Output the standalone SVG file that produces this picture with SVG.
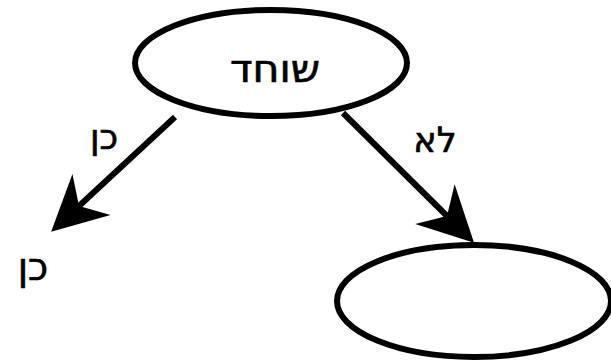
<svg xmlns="http://www.w3.org/2000/svg" width="611" height="363" viewBox="0 0 611 363">
<style>
.node{fill:#fff;stroke:#000;stroke-width:6}
.edge{stroke:#000;stroke-width:6;fill:none}
text{font-family:"DejaVu Sans","Noto Sans",sans-serif;font-size:35px;fill:#000;stroke:#000;stroke-width:0.7;text-anchor:middle}
</style>
<defs>
<marker id="arr" markerUnits="userSpaceOnUse" viewBox="-60 -30 60 60" markerWidth="60" markerHeight="60" refX="-38" refY="0" orient="auto">
<path d="M0,0 L-55,-28 L-38,0 L-55,28 Z" fill="#000"/>
</marker>
</defs>
<rect width="611" height="363" fill="#fff"/>
<g id="connectors">
<line class="edge" x1="175" y1="117" x2="79" y2="206" marker-end="url(#arr)"/>
<line class="edge" x1="343" y1="113" x2="447" y2="216" marker-end="url(#arr)"/>
<text x="104" y="149">כן</text>
<text x="435" y="152">לא</text>
</g>
<g id="n1">
<ellipse class="node" cx="271" cy="63" rx="136" ry="53"/>
<text x="275" y="82" style="font-size:38px" textLength="90" lengthAdjust="spacingAndGlyphs">שוחד</text>
</g>
<g id="n2">
<text x="33" y="280" style="font-size:38px">כן</text>
</g>
<g id="n3">
<ellipse class="node" cx="474" cy="301" rx="137" ry="56"/>
</g>
</svg>
